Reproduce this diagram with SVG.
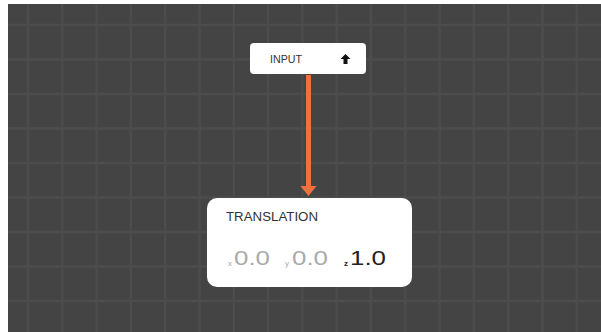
<svg xmlns="http://www.w3.org/2000/svg" width="601" height="332" viewBox="0 0 601 332">
<defs>
<style>
.bg{fill:#444444}
.grid{stroke:#4c4c4c;stroke-width:2.5;fill:none}
.node{fill:#ffffff}
.lbl{font-family:"Liberation Sans","DejaVu Sans",sans-serif;fill:#333333}
.val{font-family:"Liberation Sans","DejaVu Sans",sans-serif;font-size:20px}
.sub{font-family:"Liberation Sans","DejaVu Sans",sans-serif;font-size:8px}
.dim{fill:#aaaaaa}
.dark{fill:#222222}
.edge{stroke:#f0703e;stroke-width:5;fill:none}
</style>
<marker id="ah" markerWidth="10" markerHeight="16" refX="0" refY="8" orient="auto" markerUnits="userSpaceOnUse">
<path d="M0,0 L10,8 L0,16 Z" fill="#f0703e"/>
</marker>
</defs>
<rect x="0" y="0" width="601" height="332" fill="#ffffff"/>
<rect class="bg" x="8" y="4" width="593" height="328"/>
<path class="grid" d="M28,4V332M62.3,4V332M96.6,4V332M130.9,4V332M165.2,4V332M199.5,4V332M233.8,4V332M268.1,4V332M302.4,4V332M336.7,4V332M371,4V332M405.3,4V332M439.6,4V332M473.9,4V332M508.2,4V332M542.5,4V332M576.8,4V332M8,25H601M8,59.5H601M8,94H601M8,128.5H601M8,163H601M8,197.5H601M8,232H601M8,266.5H601M8,301H601"/>
<g id="connectors">
<path class="edge" d="M308.5,75 V186" marker-end="url(#ah)"/>
</g>
<g id="input">
<rect class="node" x="250" y="43" width="116" height="31" rx="4"/>
<text class="lbl" x="270" y="63" font-size="11" textLength="32" lengthAdjust="spacingAndGlyphs">INPUT</text>
<path d="M345.5,54 L350.5,59 L347.5,59 L347.5,64 L343.5,64 L343.5,59 L340.5,59 Z" fill="#111111"/>
</g>
<g id="translation">
<rect class="node" x="207" y="198" width="205" height="89" rx="10"/>
<text class="lbl" x="226" y="221" font-size="12" textLength="92" lengthAdjust="spacingAndGlyphs">TRANSLATION</text>
<text class="sub dim" x="228" y="266">x</text>
<text class="val dim" x="234" y="265" textLength="36" lengthAdjust="spacingAndGlyphs">0.0</text>
<text class="sub dim" x="285" y="266">y</text>
<text class="val dim" x="292" y="265" textLength="36" lengthAdjust="spacingAndGlyphs">0.0</text>
<text class="sub dark" x="344" y="266" font-weight="bold">z</text>
<text class="val dark" x="350" y="265" textLength="36" lengthAdjust="spacingAndGlyphs">1.0</text>
</g>
</svg>
